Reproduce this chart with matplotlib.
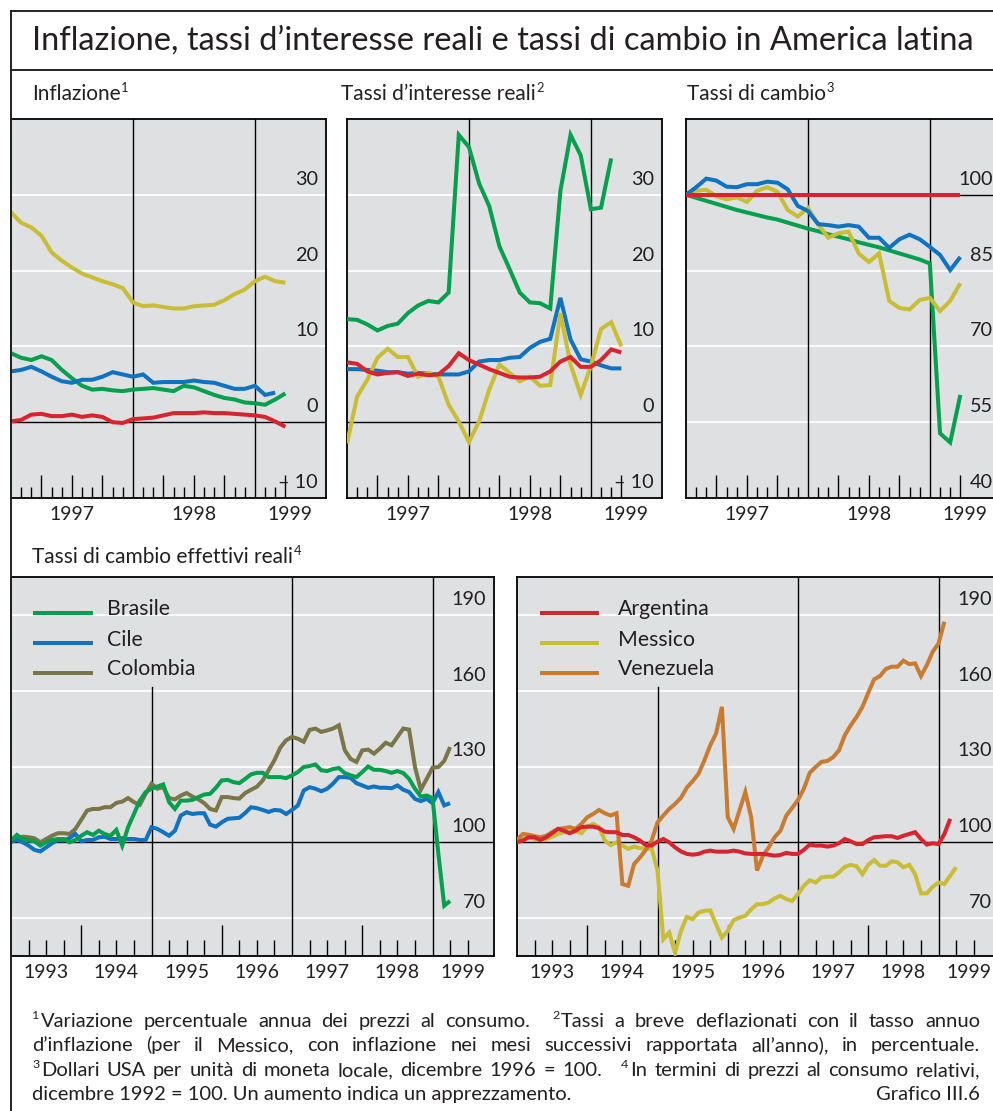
import numpy as np
import matplotlib
matplotlib.use("Agg")
import matplotlib.pyplot as plt
from matplotlib.transforms import blended_transform_factory, ScaledTranslation
from matplotlib.lines import Line2D

# ------------------------------------------------------------------ data
# Top panels: monthly, x = 0 at December 1996
top_years = ["1997", "1998", "1999"]
top_year_pos = [6, 18, 27.5]

infl_brasile = [9.1, 8.5, 8.2, 8.7, 8.2, 6.9, 5.8, 4.8, 4.3, 4.4, 4.2, 4.1, 4.3, 4.4,
                4.5, 4.3, 4.1, 4.8, 4.6, 4.1, 3.6, 3.2, 3.0, 2.6, 2.5, 2.3, 3.0, 3.8]
infl_cile = [6.7, 6.9, 7.3, 6.7, 6.0, 5.4, 5.2, 5.6, 5.6, 6.0, 6.6, 6.3, 6.0, 6.3,
             5.2, 5.3, 5.3, 5.3, 5.5, 5.3, 5.2, 4.8, 4.4, 4.4, 4.8, 3.6, 3.9]
infl_messico = [27.7, 26.3, 25.7, 24.6, 22.4, 21.3, 20.4, 19.6, 19.1, 18.6, 18.2, 17.7,
                15.8, 15.3, 15.4, 15.2, 15.0, 15.0, 15.3, 15.4, 15.5, 16.1, 16.9, 17.5,
                18.6, 19.2, 18.6, 18.4]
infl_argentina = [0.1, 0.3, 1.0, 1.1, 0.8, 0.8, 1.0, 0.7, 0.9, 0.7, 0.0, -0.1, 0.4, 0.5,
                  0.6, 0.9, 1.2, 1.2, 1.2, 1.3, 1.2, 1.2, 1.1, 1.0, 0.9, 0.7, 0.1, -0.6]

tassi_brasile = [13.6, 13.5, 12.9, 12.1, 12.7, 13.0, 14.4, 15.4, 16.0, 15.8, 17.1, 37.9,
                 36.3, 31.5, 28.5, 23.2, 20.2, 17.1, 15.8, 15.7, 15.0, 30.5, 37.9, 35.2,
                 28.1, 28.3, 34.8]
tassi_cile = [7.0, 7.0, 6.9, 6.8, 6.6, 6.6, 6.4, 6.5, 6.4, 6.3, 6.3, 6.3, 6.7, 8.0,
              8.2, 8.2, 8.5, 8.6, 9.8, 10.6, 11.0, 16.4, 10.9, 8.3, 8.0, 7.5, 7.1, 7.1]
tassi_messico = [-2.8, 3.4, 5.6, 8.5, 9.7, 8.6, 8.6, 6.0, 6.5, 6.0, 2.3, 0.1, -2.6, 0.1,
                 4.3, 7.6, 6.5, 5.4, 6.0, 4.8, 4.9, 14.4, 7.6, 3.6, 7.4, 12.3, 13.2, 10.0]
tassi_argentina = [7.9, 7.7, 6.7, 6.3, 6.5, 6.6, 6.1, 6.4, 6.2, 6.3, 7.4, 9.1, 8.2, 7.6,
                   7.0, 6.5, 6.0, 5.9, 5.9, 6.0, 6.7, 8.0, 8.6, 7.3, 7.3, 8.2, 9.6, 9.2]

cambio_brasile = [100.0, 99.4, 98.8, 98.2, 97.6, 97.0, 96.5, 96.0, 95.5, 95.1, 94.5, 93.9,
                  93.3, 92.8, 92.2, 91.7, 91.2, 90.6, 90.1, 89.6, 89.0, 88.4, 87.8, 87.2,
                  86.4, 52.8, 51.0, 60.4]
cambio_cile = [100.0, 101.5, 103.2, 102.8, 101.6, 101.5, 102.1, 102.1, 102.6, 102.4, 101.1,
               97.8, 96.8, 94.2, 94.0, 93.7, 94.0, 93.7, 91.5, 91.5, 89.5, 91.2, 92.1, 91.2,
               89.7, 88.1, 85.1, 87.7]
cambio_messico = [100.0, 100.8, 101.0, 99.7, 99.1, 99.5, 98.6, 100.8, 101.5, 100.6, 97.0,
                  95.7, 97.4, 94.2, 91.5, 92.4, 92.7, 88.4, 86.7, 88.4, 79.0, 77.6, 77.3,
                  79.2, 79.6, 77.0, 79.0, 82.5]
cambio_argentina = [100.0, 100.0, 100.0, 100.0, 100.0, 100.0, 100.0, 100.0, 100.0, 100.0,
                    100.0, 100.0, 100.0, 100.0, 100.0, 100.0, 100.0, 100.0, 100.0, 100.0,
                    100.0, 100.0, 100.0, 100.0, 100.0, 100.0, 100.0, 100.0]

# Bottom panels: monthly, x = 0 at December 1992
bottom_years = ["1993", "1994", "1995", "1996", "1997", "1998", "1999"]
bottom_year_pos = [6, 18, 30, 42, 54, 66, 77.2]

reer_brasile = [100.7, 102.9, 101.3, 100.7, 100.4, 98.7, 100.0, 100.9, 101.3, 101.3,
                100.0, 100.9, 102.6, 104.0, 102.9, 104.6, 103.3, 102.6, 104.9, 98.7,
                106.0, 111.2, 116.5, 119.9, 121.2, 122.1, 122.9, 115.9, 113.2, 116.5,
                116.5, 116.8, 117.9, 118.9, 119.2, 121.6, 124.5, 124.7, 123.8, 123.4,
                125.1, 126.9, 127.5, 127.5, 125.8, 125.8, 125.8, 125.4, 126.5, 127.8,
                129.8, 130.2, 130.8, 128.5, 128.2, 129.0, 129.4, 127.4, 126.5, 125.8,
                127.8, 130.0, 128.7, 128.7, 128.2, 127.5, 128.2, 127.4, 125.1, 121.2,
                118.1, 118.5, 117.5, 95.4, 74.9, 76.8]
reer_cile = [100.4, 100.9, 100.0, 98.7, 97.0, 96.4, 98.0, 99.6, 100.9, 100.7,
             101.7, 103.3, 100.4, 100.9, 100.9, 102.0, 102.2, 101.3, 101.3, 101.6,
             101.3, 101.3, 100.9, 100.9, 106.0, 105.3, 104.0, 102.6, 104.6, 110.6,
             111.9, 111.2, 111.5, 111.5, 107.0, 106.2, 107.9, 109.3, 109.5, 109.7,
             111.6, 113.9, 113.5, 112.8, 112.0, 112.8, 112.6, 111.2, 112.8, 114.6,
             120.5, 121.8, 121.2, 120.2, 121.2, 123.2, 125.8, 125.8, 125.5, 123.4,
             122.5, 121.6, 122.1, 121.6, 121.6, 121.4, 122.5, 120.8, 119.9, 117.2,
             116.3, 117.2, 115.5, 119.9, 114.6, 115.5]
reer_colombia = [100.0, 101.3, 102.2, 102.0, 101.6, 100.0, 101.3, 102.6, 103.6, 103.6,
                 103.3, 105.3, 108.9, 112.6, 113.2, 113.2, 113.9, 113.9, 115.6, 116.1,
                 117.5, 115.9, 114.8, 119.2, 123.2, 121.2, 121.8, 117.5, 117.0, 118.5,
                 119.5, 118.1, 117.0, 115.5, 113.2, 112.6, 117.9, 117.9, 117.5, 117.3,
                 119.5, 120.8, 122.0, 124.5, 128.5, 132.5, 137.5, 140.4, 141.7, 141.0,
                 139.8, 144.5, 145.0, 143.7, 144.3, 145.0, 146.3, 136.5, 133.0, 131.8,
                 136.4, 136.7, 135.1, 137.1, 139.4, 138.4, 141.7, 145.0, 144.6, 129.8,
                 120.8, 125.1, 129.5, 129.8, 132.2, 137.7]
reer_argentina = [100.0, 100.7, 102.0, 102.0, 100.9, 102.0, 103.6, 105.3, 104.6, 103.6,
                  104.6, 106.0, 106.2, 106.2, 105.6, 104.2, 104.0, 104.0, 102.9, 102.9,
                  102.0, 100.7, 98.9, 98.7, 100.3, 101.3, 100.0, 98.0, 96.4, 95.4,
                  95.1, 95.4, 96.3, 96.7, 96.3, 96.3, 96.3, 96.7, 96.3, 95.6,
                  95.4, 95.4, 95.4, 95.1, 94.7, 95.0, 95.8, 95.4, 95.4, 97.0,
                  99.1, 98.7, 98.7, 98.3, 98.7, 99.6, 101.3, 100.4, 99.3, 99.3,
                  100.9, 102.0, 102.2, 102.4, 102.4, 101.7, 102.6, 103.3, 104.0, 101.3,
                  99.1, 99.6, 99.3, 103.3, 109.3]
reer_messico = [100.0, 101.3, 102.0, 101.3, 100.9, 101.3, 102.2, 103.3, 104.0, 104.0,
                104.4, 103.6, 106.2, 107.3, 106.0, 100.7, 98.9, 100.0, 98.7, 97.4,
                98.3, 97.7, 97.4, 97.6, 88.8, 61.6, 64.3, 56.3, 64.9, 70.5,
                69.6, 72.2, 72.9, 73.1, 67.6, 62.3, 64.9, 69.2, 70.2, 70.9,
                73.5, 75.5, 75.5, 76.2, 77.8, 78.8, 77.5, 76.8, 79.5, 82.8,
                85.0, 84.1, 86.1, 86.4, 86.4, 88.1, 90.3, 91.1, 90.5, 87.4,
                91.1, 93.0, 90.7, 90.7, 92.5, 92.1, 90.1, 91.1, 87.4, 79.8,
                79.8, 82.4, 84.1, 83.5, 86.8, 90.1]
reer_venezuela = [100.9, 103.3, 103.0, 102.4, 102.0, 102.6, 104.0, 105.3, 105.6, 106.0,
                  105.3, 107.3, 109.9, 111.2, 112.8, 111.5, 110.6, 111.5, 83.5, 82.8,
                  91.4, 94.0, 97.0, 100.7, 107.9, 110.6, 113.2, 115.2, 117.6, 121.6,
                  124.2, 127.1, 132.4, 138.4, 143.0, 153.6, 109.9, 105.3, 112.6, 119.9,
                  109.9, 88.8, 94.7, 98.0, 102.0, 104.6, 110.6, 113.6, 116.8, 121.2,
                  127.5, 129.8, 131.8, 132.2, 133.7, 136.4, 142.4, 146.3, 149.6, 153.6,
                  159.2, 164.5, 165.8, 168.6, 169.5, 169.5, 171.9, 170.5, 170.8, 165.8,
                  170.1, 175.4, 178.7, 187.3]

legend_left = ["Brasile", "Cile", "Colombia"]
legend_right = ["Argentina", "Messico", "Venezuela"]

title_text = "Inflazione, tassi d\u2019interesse reali e tassi di cambio in America latina"
panel_titles = [("Inflazione", "1"), ("Tassi d\u2019interesse reali", "2"),
                ("Tassi di cambio", "3")]
bottom_title = ("Tassi di cambio effettivi reali", "4")
# "^n" marks a footnote number, " | " a wider gap between two footnotes
footnotes = [
    "^1Variazione percentuale annua dei prezzi al consumo. | ^2Tassi a breve deflazionati con il tasso annuo",
    "d\u2019inflazione (per il Messico, con inflazione nei mesi successivi rapportata all\u2019anno), in percentuale.",
    "^3Dollari USA per unit\u00e0 di moneta locale, dicembre 1996 = 100. | ^4In termini di prezzi al consumo relativi,",
]
footnote_last = "dicembre 1992 = 100. Un aumento indica un apprezzamento."
source_text = "Grafico III.6"

# ------------------------------------------------------------------ style
W, H, DPI = 993, 1111, 100
FONT = ["Lato", "DejaVu Sans"]
plt.rcParams["font.family"] = FONT
TXT = "#231f20"
BG = "#dfe0e2"
C_GREEN = "#05a04e"
C_BLUE = "#0f73c2"
C_RED = "#d8242f"
C_YEL = "#c8bd34"
C_OLIVE = "#7a7648"
C_ORANGE = "#c97b30"
LW = 2.9
SUP_RATIO = 0.62

fig = plt.figure(figsize=(W / DPI, H / DPI), dpi=DPI)
fig.patch.set_facecolor("white")
renderer = fig.canvas.get_renderer()


def text_width(s, size):
    t = fig.text(0, 0, s, fontsize=size)
    w = t.get_window_extent(renderer).width
    t.remove()
    return w


def fx(px):
    return px / W


def fy(py):
    return 1 - py / H


def add_ax(x0, y0, x1, y1):
    return fig.add_axes([x0 / W, 1 - y1 / H, (x1 - x0) / W, (y1 - y0) / H])


def put(xpx, ypx, s, size, ha="left"):
    fig.text(fx(xpx), fy(ypx), s, fontsize=size, color=TXT, va="baseline", ha=ha)


def put_sup(xpx, ypx, s, size):
    """superscript number, top near cap height of the base size"""
    put(xpx, ypx - size * 0.40 * DPI / 72, s, size * SUP_RATIO)


def title_with_sup(xpx, ypx, main, sup, size):
    put(xpx, ypx, main, size)
    w = text_width(main, size)
    put_sup(xpx + w + 0.5, ypx, sup, size)


def base_axes(ax, xlim, ylim, white, black, vlines, majors, minors, lmaj, lmin):
    ax.set_facecolor(BG)
    ax.set_xlim(*xlim)
    ax.set_ylim(*ylim)
    for v in white:
        ax.axhline(v, color="white", lw=1.3, zorder=1)
    for v in black:
        ax.axhline(v, color="black", lw=1.0, zorder=2)
    for v, top in vlines:
        ax.axvline(v, ymax=top, color="black", lw=1.0, zorder=2)
    ax.set_xticks(majors)
    ax.set_xticks(minors, minor=True)
    ax.tick_params(axis="x", which="major", direction="in", length=lmaj * 72 / DPI,
                   width=1.0, color="black", labelbottom=False)
    ax.tick_params(axis="x", which="minor", direction="in", length=lmin * 72 / DPI,
                   width=1.0, color="black", labelbottom=False)
    ax.set_yticks([])
    for s in ax.spines.values():
        s.set_linewidth(1.3)
        s.set_color("black")


def ylabels(ax, vals, texts, size=14.3):
    tr = blended_transform_factory(ax.transAxes, ax.transData) + \
        ScaledTranslation(-8 / DPI, 10 / DPI, fig.dpi_scale_trans)
    for v, t in zip(vals, texts):
        ax.text(1, v, t, transform=tr, ha="right", va="baseline", fontsize=size,
                color=TXT, clip_on=False, zorder=6)


def xlabels(ax, pos, texts, size=14.0):
    tr = blended_transform_factory(ax.transData, ax.transAxes) + \
        ScaledTranslation(0, -22 / DPI, fig.dpi_scale_trans)
    for p, t in zip(pos, texts):
        ax.text(p, 0, t, transform=tr, ha="center", va="baseline", fontsize=size,
                color=TXT, clip_on=False)


def plot_series(ax, series, colors):
    for s, c in zip(series, colors):
        ax.plot(np.arange(len(s)), s, color=c, lw=LW, zorder=4,
                solid_joinstyle="miter", solid_capstyle="butt")


# ------------------------------------------------------------------ frame
frame_kw = dict(color="#222222", lw=1.4, transform=fig.transFigure)
fig.add_artist(Line2D([fx(10.5), fx(10.5)], [0, fy(11)], **frame_kw))
fig.add_artist(Line2D([fx(10.5), 1], [fy(11), fy(11)], **frame_kw))
fig.add_artist(Line2D([fx(10.5), 1], [fy(70), fy(70)], **frame_kw))

# title fitted to width
ts = 22.0 * 938 / text_width(title_text, 22.0)
put(32, 50, title_text, ts)

for (main, sup), x in zip(panel_titles, [32, 341, 687]):
    title_with_sup(x, 100, main, sup, 15)
title_with_sup(32, 563, bottom_title[0], bottom_title[1], 15)

# ------------------------------------------------------------------ top panels
top_major = [3, 6, 9, 15, 18, 21, 27]
top_minor = [1, 2, 4, 5, 7, 8, 10, 11, 13, 14, 16, 17, 19, 20, 22, 23, 25, 26]
top_boxes = [(11, 326), (347, 662), (686, 1001)]

ax1 = add_ax(top_boxes[0][0], 119, top_boxes[0][1], 498)
base_axes(ax1, (0, 31), (-10, 40), [10, 20, 30], [0], [(12, 1), (24, 1)],
          top_major, top_minor, 23, 11)
plot_series(ax1, [infl_messico, infl_brasile, infl_cile, infl_argentina],
            [C_YEL, C_GREEN, C_BLUE, C_RED])
ylabels(ax1, [30, 20, 10, 0, -10], ["30", "20", "10", "0", "\u2013 10"])
xlabels(ax1, top_year_pos, top_years)

ax2 = add_ax(top_boxes[1][0], 119, top_boxes[1][1], 498)
base_axes(ax2, (0, 31), (-10, 40), [10, 20, 30], [0], [(12, 1), (24, 1)],
          top_major, top_minor, 23, 11)
plot_series(ax2, [tassi_brasile, tassi_cile, tassi_messico, tassi_argentina],
            [C_GREEN, C_BLUE, C_YEL, C_RED])
ylabels(ax2, [30, 20, 10, 0, -10], ["30", "20", "10", "0", "\u2013 10"])
xlabels(ax2, top_year_pos, top_years)

ax3 = add_ax(top_boxes[2][0], 119, top_boxes[2][1], 498)
base_axes(ax3, (0, 31), (40, 115), [55, 70, 85], [100], [(12, 1), (24, 1)],
          top_major, top_minor, 23, 11)
plot_series(ax3, [cambio_brasile, cambio_messico, cambio_cile, cambio_argentina],
            [C_GREEN, C_YEL, C_BLUE, C_RED])
ylabels(ax3, [100, 85, 70, 55, 40], ["100", "85", "70", "55", "40"])
xlabels(ax3, top_year_pos, top_years)

# ------------------------------------------------------------------ bottom panels
bot_major = [12, 36, 60]
bot_minor = [3, 6, 9, 15, 18, 21, 27, 30, 33, 39, 42, 45, 51, 54, 57, 63, 66, 69, 75, 78]
vtop = (161.5 - 55) / 150

ax4 = add_ax(11, 577, 494, 956)
base_axes(ax4, (0, 82.5), (55, 205), [70, 130, 160, 190], [100],
          [(24, vtop), (48, 1), (72, 1)], bot_major, bot_minor, 31, 16)
plot_series(ax4, [reer_colombia, reer_cile, reer_brasile], [C_OLIVE, C_BLUE, C_GREEN])
ylabels(ax4, [190, 160, 130, 100, 70], ["190", "160", "130", "100", "70"])
xlabels(ax4, bottom_year_pos, bottom_years)

ax5 = add_ax(517, 577, 1000, 956)
base_axes(ax5, (0, 82.5), (55, 205), [70, 130, 160, 190], [100],
          [(24, vtop), (48, 1), (72, 1)], bot_major, bot_minor, 31, 16)
plot_series(ax5, [reer_messico, reer_venezuela, reer_argentina], [C_YEL, C_ORANGE, C_RED])
ylabels(ax5, [190, 160, 130, 100, 70], ["190", "160", "130", "100", "70"])
xlabels(ax5, bottom_year_pos, bottom_years)


def legend(ax, x_left, labels, colors, x0px, x1px, xtpx):
    axw = 483.0
    axh = 379.0
    for i, (lab, c) in enumerate(zip(labels, colors)):
        ypx = 613 + 30 * i
        yf = (956 - ypx) / axh
        ax.plot([(x0px - x_left) / axw, (x1px - x_left) / axw], [yf, yf],
                transform=ax.transAxes, color=c, lw=LW, solid_capstyle="butt", zorder=5)
        ax.text((xtpx - x_left) / axw, (956 - ypx - 2.5) / axh, lab, transform=ax.transAxes,
                fontsize=15.3, color=TXT, va="baseline", ha="left", zorder=5)


legend(ax4, 11, legend_left, [C_GREEN, C_BLUE, C_OLIVE], 33, 93, 107)
legend(ax5, 517, legend_right, [C_RED, C_YEL, C_ORANGE], 540, 599, 618)

# ------------------------------------------------------------------ footnotes
X0, X1 = 32, 980
fn_base = [1027, 1051, 1076]
EXTRA = 12.0


def word_width(w, size):
    if w.startswith("^"):
        return text_width(w[1], size * SUP_RATIO) + 1.5 + text_width(w[2:], size)
    return text_width(w, size)


def tokens(line):
    parts = line.split(" | ")
    words, extra_after = [], set()
    for pi, p in enumerate(parts):
        words.extend(p.split(" "))
        if pi < len(parts) - 1:
            extra_after.add(len(words) - 1)
    return words, extra_after


# font size: the longest justified line must fit with a minimum word gap
fs_fit = 14.5
for line in footnotes:
    words, ea = tokens(line)
    need = sum(word_width(w, 14.5) for w in words)
    avail = X1 - X0 - EXTRA * len(ea) - 3.6 * (len(words) - 1) * 1.0
    fs_fit = min(fs_fit, 14.5 * avail / need)
FS_FN = fs_fit


def justify(line, ybase):
    words, extra_after = tokens(line)
    widths = [word_width(w, FS_FN) for w in words]
    gap = (X1 - X0 - sum(widths) - EXTRA * len(extra_after)) / (len(words) - 1)
    x = X0
    for i, (w, wd) in enumerate(zip(words, widths)):
        if w.startswith("^"):
            put_sup(x, ybase, w[1], FS_FN)
            put(x + text_width(w[1], FS_FN * SUP_RATIO) + 1.5, ybase, w[2:], FS_FN)
        else:
            put(x, ybase, w, FS_FN)
        x += wd + gap + (EXTRA if i in extra_after else 0)


for line, yb in zip(footnotes, fn_base):
    justify(line, yb)
put(X0, 1100, footnote_last, FS_FN)
put(X1, 1100, source_text, FS_FN, ha="right")

fig.savefig("out.png", dpi=DPI, facecolor="white")
